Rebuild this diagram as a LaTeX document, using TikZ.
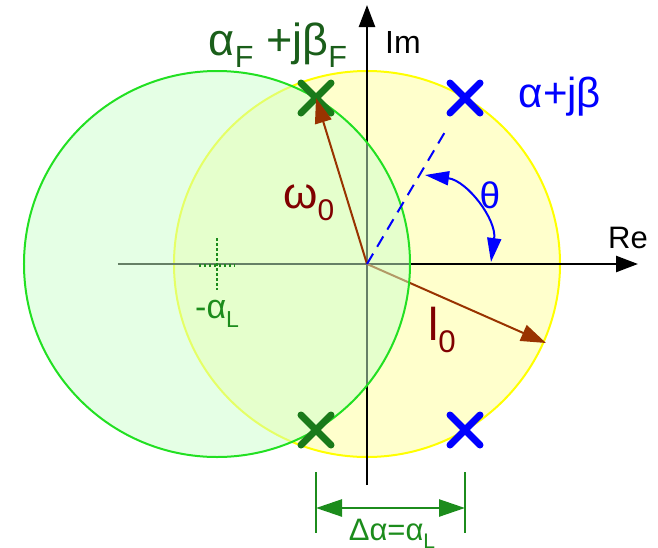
\documentclass[tikz,border=0pt]{standalone}
\usepackage{fontspec}
\setmainfont{Liberation Sans}
\usetikzlibrary{arrows.meta,shapes.misc}
\definecolor{poleblue}{HTML}{0000FF}
\definecolor{vecbrown}{HTML}{993300}
\definecolor{labelred}{HTML}{800000}
\definecolor{labelgreen}{HTML}{1A5E1A}
\definecolor{crossgreen}{HTML}{1A7A1A}
\definecolor{markgreen}{HTML}{1C8C1C}
\definecolor{ringgreen}{HTML}{22E022}
\definecolor{fillgreen}{HTML}{CCFFCC}
\definecolor{ringyellow}{HTML}{FFFF00}
\definecolor{fillyellow}{HTML}{FFFFCC}
\newcommand{\lowsub}[1]{\raisebox{-0.28em}{\scalebox{0.68}{#1}}}

\begin{document}
\begin{tikzpicture}[x=1pt, y=1pt,
  axis/.style={line width=2.5pt, -{Triangle[length=22pt, width=16pt]}},
  vec/.style={vecbrown, line width=2pt, -{Triangle[length=25pt, width=17pt]}},
  pole/.style={cross out, draw, line width=7pt, line cap=round,
               minimum size=23pt, inner sep=0pt},
  dim/.style={markgreen, line width=2.5pt},
  lab/.style={inner sep=0pt}
]
  \useasboundingbox (-367,-283) rectangle (291,264);
  \coordinate (o) at (0,0);
  \coordinate (gc) at (-150,0);

  % Original circle
  \draw[ringyellow, fill=fillyellow, line width=2pt] (o) circle[radius=193];

  % Axes
  \coordinate (xl) at (-249,0);
  \coordinate (xr) at (271,0);
  \coordinate (yb) at (0,-221);
  \coordinate (yt) at (0,259);
  \draw[axis] (xl) -- (xr);
  \draw[axis] (yb) -- (yt);
  \node[lab, anchor=base west, font=\fontsize{32}{32}\selectfont] (im) at (18,211) {Im};
  \node[lab, anchor=base west, font=\fontsize{31}{31}\selectfont] (re) at (241,16) {Re};

  % Radius to the rim
  \coordinate (rim) at (179,-79);
  \draw[vec] (o) -- (rim);

  % Shifted circle
  \draw[ringgreen, fill=fillgreen, fill opacity=0.5, line width=2pt] (gc) circle[radius=193];
  \draw[markgreen, line width=2.5pt, dash pattern=on 2.5pt off 2.5pt]
    (-168,-1.5) -- (-132,-1.5) (-150,26) -- (-150,-26);
  \node[lab, anchor=base west, markgreen, font=\fontsize{34}{34}\selectfont] (al) at (-172,-54) {-α\lowsub{L}};

  % Poles
  \node[pole, draw=poleblue] (pb1) at (98,166) {};
  \node[pole, draw=poleblue] (pb2) at (98,-166) {};
  \node[pole, draw=crossgreen] (pf1) at (-51,166) {};
  \node[pole, draw=crossgreen] (pf2) at (-51,-166) {};
  \node[lab, anchor=base, poleblue, font=\fontsize{42}{42}\selectfont] (pbl) at (193,157) {α+jβ};
  \node[lab, anchor=base, labelgreen, font=\fontsize{45}{45}\selectfont] (pfl) at (-89,209) {α\lowsub{F} +jβ\lowsub{F}};

  % Radius to the shifted pole
  \draw[vec] (o) -- (pf1.center);
  \node[lab, anchor=base west, labelred, font=\fontsize{44}{44}\selectfont] (w0) at (-84,56) {ω\lowsub{0}};
  \node[lab, anchor=base west, labelred, font=\fontsize{46}{46}\selectfont] (l0) at (61,-76) {l\lowsub{0}};

  % Angle
  \draw[poleblue, line width=2pt, dash pattern=on 12pt off 8pt, shorten >=22pt] (o) -- (pb1);
  \coordinate (th1) at (58,89);
  \coordinate (th2) at (124,2);
  \draw[poleblue, line width=2pt, {Triangle[length=24pt, width=14pt]}-{Triangle[length=24pt, width=14pt]}]
    (th1) to[bend left=45] (th2);
  \node[lab, poleblue, font=\fontsize{37}{37}\selectfont] (th) at (123,69) {θ};

  % Shift
  \coordinate (d1t) at (-51,-208);
  \coordinate (d1b) at (-51,-269);
  \coordinate (d2t) at (98,-208);
  \coordinate (d2b) at (98,-269);
  \draw[dim] (d1t) -- (d1b);
  \draw[dim] (d2t) -- (d2b);
  \coordinate (da) at (-51,-244);
  \coordinate (db) at (98,-244);
  \draw[dim, {Triangle[length=26pt, width=17pt]}-{Triangle[length=26pt, width=17pt]}] (da) -- (db);
  \node[lab, anchor=base, markgreen, font=\fontsize{31}{31}\selectfont] (dl) at (25,-276) {Δα=α\lowsub{L}};
\end{tikzpicture}
\end{document}
